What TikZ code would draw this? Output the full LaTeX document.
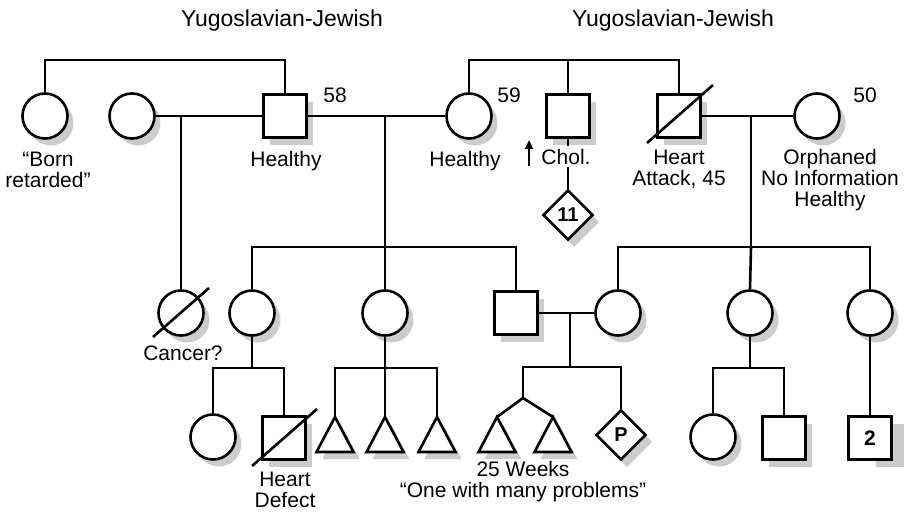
\documentclass[tikz,border=0pt]{standalone}
\usepackage{fontspec}
\setmainfont{Liberation Sans}
\usetikzlibrary{shapes.geometric,arrows.meta,calc}
\begin{document}
\begin{tikzpicture}[x=1pt,y=-1pt,
  every path/.append style={line width=2.6pt},
  male/.style={draw,fill=white,rectangle,minimum size=43pt,inner sep=0pt,font=\fontsize{21}{21}\selectfont\bfseries},
  female/.style={draw,fill=white,circle,minimum size=45pt,inner sep=0pt},
  unk/.style={draw,fill=white,diamond,aspect=1,minimum size=50pt,inner sep=0pt,font=\fontsize{20}{20}\selectfont\bfseries},
  tri/.style={draw,fill=white},
  shadowc/.style={fill=black!20,draw=none},
  lbl/.style={font=\fontsize{21}{21}\selectfont,align=center,anchor=base,inner sep=0pt},
  ttl/.style={font=\fontsize{23}{23}\selectfont,anchor=base,inner sep=0pt},
  slash/.style={line width=2.6pt}
]
\useasboundingbox (0,0) rectangle (904,511);

% ---------- persons (shadow shapes behind via background path) ----------
\foreach \nm/\px/\py in {A/45/116,B/132/116,D/469/116,G/817/116,I/181/313,J/252/313,K/385/313,M/618/313,N/750/313,O/870/313,P1/213/437,Q1/713/437}{
  \path[shadowc] (\px+6,\py+7) circle[radius=22.5];
  \node[female] (\nm) at (\px,\py) {};
}
\foreach \nm/\px/\py in {C/285/116,E/568/116,F/679/116,L/516/313,P2/284/438,Q2/784/438}{
  \path[shadowc] (\px-15.5,\py-14.5) rectangle (\px+27.5,\py+28.5);
  \node[male] (\nm) at (\px,\py) {};
}
\path[shadowc] (876,424) rectangle (919,467);
\node[male] (R) at (870,438) {2};
\path[shadowc] (574,197) -- (599,222) -- (574,247) -- (549,222) -- cycle;
\node[unk] (H) at (568,215) {11};
\path[shadowc] (627,417) -- (652,442) -- (627,467) -- (602,442) -- cycle;
\node[unk] (PP) at (621,435) {P};
\foreach \t/\px in {T1/335,T2/385,T3/437,T4/497,T5/553}{
  \coordinate (\t) at (\px,417);
  \path[shadowc] (\px+6,424) -- ++(18.5,35) -- ++(-37,0) -- cycle;
  \draw[tri] (\t) -- ++(18.5,35) -- ++(-37,0) -- cycle;
}

% ---------- helper coordinates ----------
\coordinate (top) at (0,60);
\coordinate (mBC) at (181,116);
\coordinate (mCD) at (385,116);
\coordinate (sCD) at (385,247);
\coordinate (mFG) at (751,116);
\coordinate (sFG) at (751,247);
\coordinate (sJ) at (252,368);
\coordinate (sK) at (385,368);
\coordinate (mLM) at (570,313);
\coordinate (sLM) at (570,367);
\coordinate (tw) at (523,398);
\coordinate (sN) at (750,368);

% ---------- connectors ----------
\draw (A.north) |- (top -| C.north) -- (C.north);
\draw (D.north) |- (top -| F.north) -- (F.north);
\draw (E.north) -- (E.north |- top);
\draw (B.east) -- (C.west);
\draw (C.east) -- (D.west);
\draw (F.east) -- (G.west);
\draw (mBC) -- (I.north);
\draw (E.south) -- (H.north);
\draw (mCD) -- (sCD);
\draw (J.north) |- (sCD) -| (L.north);
\draw (sCD) -- (K.north);
\draw (mFG) -- (sFG);
\draw (M.north) |- (sFG) -| (O.north);
\draw (sFG) -- (N.north);
\draw (J.south) -- (sJ);
\draw (P1.north) |- (sJ) -| (P2.north);
\draw (K.south) -- (sK);
\draw (T1) |- (sK) -| (T3);
\draw (sK) -- (T2);
\draw (L.east) -- (M.west);
\draw (mLM) -- (sLM);
\draw (tw) |- (sLM) -| (PP.north);
\draw (tw) -- (T4);
\draw (tw) -- (T5);
\draw (N.south) -- (sN);
\draw (Q1.north) |- (sN) -| (Q2.north);
\draw (O.south) -- (R.north);

% deceased slashes
\draw[slash] ($(F.center)+(-32,27)$) -- ($(F.center)+(34,-31)$);
\draw[slash] ($(I.center)+(-28,24)$) -- ($(I.center)+(28,-25)$);
\draw[slash] ($(P2.center)+(-32,28)$) -- ($(P2.center)+(33,-29)$);

% ---------- labels ----------
\node[ttl] (t1) at (282,27) {Yugoslavian-Jewish};
\node[ttl] (t2) at (673,27) {Yugoslavian-Jewish};
\node[lbl] (a58) at (335,102) {58};
\node[lbl] (a59) at (509,102) {59};
\node[lbl] (a50) at (865,102) {50};
\node[lbl] (lA) at (48,187) {“Born\\retarded”};
\node[lbl] (lC) at (286,166) {Healthy};
\node[lbl] (lD) at (465,166) {Healthy};
\node[lbl,fill=white,inner ysep=3pt] (lE) at (566,164) {Chol.};
\coordinate (arB) at (529,166);
\coordinate (arT) at (529,140);
\draw[line width=2.2pt,-{Triangle[length=9pt,width=8pt]}] (arB) -- (arT);
\node[lbl] (lF) at (679,185) {Heart\\Attack, 45};
\node[lbl] (lG) at (830,206) {Orphaned\\No Information\\Healthy};
\node[lbl] (lI) at (183,360) {Cancer?};
\node[lbl] (lP2) at (285,507) {Heart\\Defect};
\node[lbl] (lT) at (523,497) {25 Weeks\\“One with many problems”};
\end{tikzpicture}
\end{document}
